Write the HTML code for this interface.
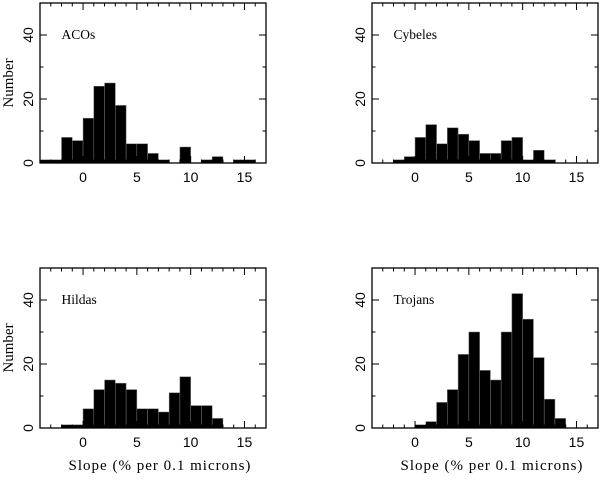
<!DOCTYPE html>
<html><head><meta charset="utf-8"><style>
body{margin:0;background:#fff}
svg text{font-family:"Liberation Sans",sans-serif;fill:#000}
.lab{font-family:"Liberation Serif",serif}
</style></head><body>
<svg id="fig" width="600" height="476" xmlns="http://www.w3.org/2000/svg"></svg>
<script>
const binStarts=[-4,-3,-2,-1,0,1,2,3,4,5,6,7,8,9,10,11,12,13,14,15];
const acos=[1,1,8,7,14,24,25,18,6,6,3,1,0,5,0,1,2,0,1,1];
const cybeles=[0,0,1,2,8,12,6,11,9,7,3,3,7,8,1,4,1,0,0,0];
const hildas=[0,0,1,1,6,12,15,14,12,6,6,5,11,16,7,7,3,0,0,0];
const trojans=[0,0,0,0,1,2,8,12,23,30,18,15,30,42,34,22,9,3,0,0];
const xTicks=[0,5,10,15];
const yTicks=[0,20,40];
const panels=[
 {name:"ACOs",data:acos,L:40,T:3,showY:true,showX:false},
 {name:"Cybeles",data:cybeles,L:372,T:3,showY:false,showX:false},
 {name:"Hildas",data:hildas,L:40,T:268,showY:true,showX:true},
 {name:"Trojans",data:trojans,L:372,T:268,showY:false,showX:true}
];
const W=226,H=160,xmin=-4,xmax=17,ymax=50;
const svg=document.getElementById('fig');
const NS="http://www.w3.org/2000/svg";
function mk(t,a,p){const e=document.createElementNS(NS,t);for(const k in a)e.setAttribute(k,a[k]);(p||svg).appendChild(e);return e;}
panels.forEach(p=>{
 const g=mk('g',{});
 
 
 const X=v=>p.L+(v-xmin)/(xmax-xmin)*W;
 const Y=v=>p.T+H-v/ymax*H;
 p.data.forEach((v,i)=>{
  if(v<=0)return;
  const r=mk('rect',{x:X(binStarts[i]),y:Y(v),width:X(binStarts[i]+1)-X(binStarts[i]),height:Y(0)-Y(v),fill:'#000',stroke:'#777','stroke-width':0.5},g);
  
  
 });
 const f=mk('rect',{x:p.L,y:p.T,width:W,height:H,fill:'none',stroke:'#000','stroke-width':1.3},g);
 
 
 for(let v=-3;v<=16;v++){
  const len=v%5===0?7:3.5;
  mk('line',{x1:X(v),x2:X(v),y1:p.T+H,y2:p.T+H-len,stroke:'#000'},g);
  mk('line',{x1:X(v),x2:X(v),y1:p.T,y2:p.T+len,stroke:'#000'},g);
 }
 for(let v=10;v<ymax;v+=10){
  const len=v%20===0?7:3.5;
  mk('line',{x1:p.L,x2:p.L+len,y1:Y(v),y2:Y(v),stroke:'#000'},g);
  mk('line',{x1:p.L+W,x2:p.L+W-len,y1:Y(v),y2:Y(v),stroke:'#000'},g);
 }
 xTicks.forEach(v=>{
  const t=mk('text',{x:X(v),y:p.T+H+19,'text-anchor':'middle','font-size':14},g);
  t.textContent=v;
  
  
 });
 yTicks.forEach(v=>{
  const t=mk('text',{x:0,y:0,'text-anchor':'middle','font-size':14,transform:`translate(${p.L-7},${Y(v)}) rotate(-90)`},g);
  t.textContent=v;
  
  
 });
 const n=mk('text',{x:X(-2),y:p.T+36,'font-size':13.5,class:'lab'},g);
 n.textContent=p.name;
 
 
 if(p.showY){
  const t=mk('text',{x:0,y:0,'text-anchor':'middle','font-size':15,class:'lab',transform:`translate(13,${p.T+H/2}) rotate(-90)`},g);
  t.textContent='Number';
  
  
 }
 if(p.showX){
  const t=mk('text',{x:p.L+W/2+7,y:470,'text-anchor':'middle','font-size':15,'letter-spacing':1,class:'lab'},g);
  t.textContent='Slope (% per 0.1 microns)';
  
  
 }
});
</script>
</body></html>
